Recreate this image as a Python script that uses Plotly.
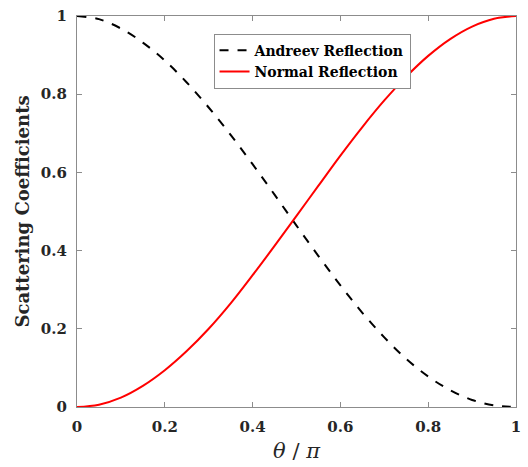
import plotly.graph_objects as go

# theta / pi sample positions
theta = [0.00, 0.05, 0.10, 0.15, 0.20, 0.25, 0.30, 0.35, 0.40, 0.45, 0.50,
         0.55, 0.60, 0.65, 0.70, 0.75, 0.80, 0.85, 0.90, 0.95, 1.00]

# Andreev reflection coefficient
andreev = [1.000, 0.992, 0.968, 0.932, 0.886, 0.830, 0.766, 0.696, 0.621, 0.543, 0.464,
           0.386, 0.311, 0.241, 0.178, 0.123, 0.078, 0.043, 0.018, 0.004, 0.000]

# Normal reflection coefficient
normal = [0.000, 0.006, 0.024, 0.054, 0.094, 0.143, 0.200, 0.265, 0.337, 0.412, 0.489,
          0.566, 0.643, 0.716, 0.784, 0.845, 0.898, 0.941, 0.973, 0.993, 1.000]

tick_vals = [0, 0.2, 0.4, 0.6, 0.8, 1]
tick_text = ["0", "0.2", "0.4", "0.6", "0.8", "1"]

serif = "DejaVu Serif"

fig = go.Figure()
fig.add_trace(go.Scatter(
    x=theta, y=andreev, mode="lines", name="Andreev Reflection",
    line=dict(color="black", width=2, dash="dash", shape="spline", smoothing=1),
))
fig.add_trace(go.Scatter(
    x=theta, y=normal, mode="lines", name="Normal Reflection",
    line=dict(color="#ff0000", width=2, shape="spline", smoothing=1),
))

axis_common = dict(
    range=[0, 1], tickvals=tick_vals, ticktext=tick_text,
    showgrid=False, zeroline=False, showline=True, mirror="ticks",
    linecolor="#8c8c8c", linewidth=1.2, ticks="inside", ticklen=5,
    tickcolor="#8c8c8c", tickwidth=1,
    tickfont=dict(family=serif, size=15, color="#262626", weight="bold"),
)

fig.update_xaxes(**axis_common, ticklabelstandoff=6,
                 title=dict(text="<i>θ</i> / <i>π</i>", standoff=8,
                            font=dict(family=serif, size=21, color="#262626")))
fig.update_yaxes(**axis_common, ticklabelstandoff=6,
                 title=dict(text="Scattering Coefficients", standoff=6,
                            font=dict(family=serif, size=18, color="#262626", weight="bold")))

fig.update_layout(
    width=528, height=467,
    margin=dict(l=77, r=7, t=12, b=60),
    plot_bgcolor="white", paper_bgcolor="white",
    legend=dict(
        x=0.311, y=0.955, xanchor="left", yanchor="top",
        bgcolor="white", bordercolor="#8c8c8c", borderwidth=1,
        font=dict(family=serif, size=14, color="black", weight="bold"),
        tracegroupgap=0, itemwidth=30,
    ),
)

fig.write_html("out.html")
